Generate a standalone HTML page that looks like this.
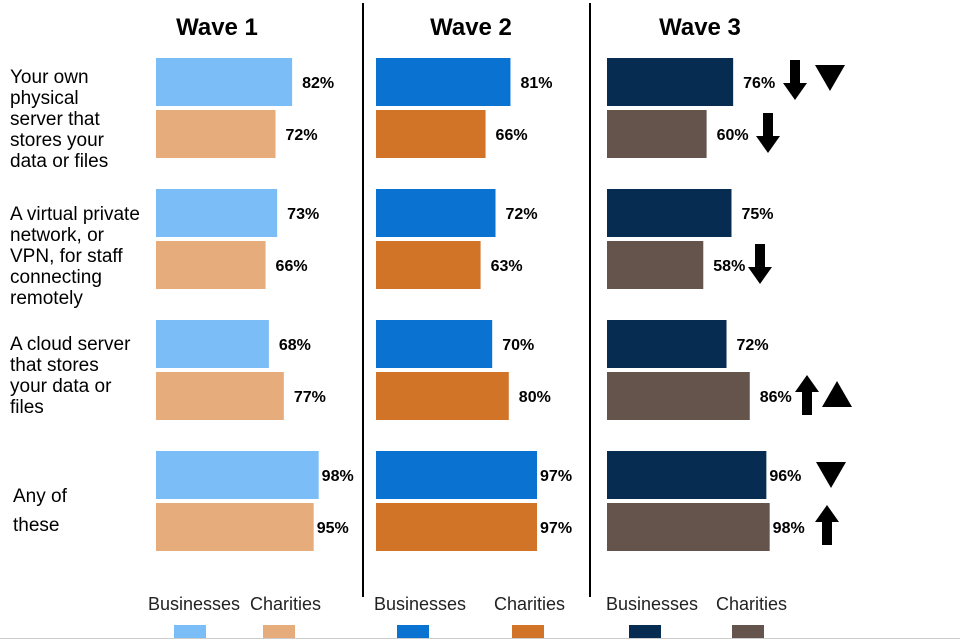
<!DOCTYPE html>
<html><head><meta charset="utf-8"><style>
body{margin:0;background:#fff;width:960px;height:640px;overflow:hidden;font-family:"Liberation Sans",Arial,sans-serif}
svg{display:block}
</style></head><body>
<svg id="c" width="960" height="640">
<line x1="0" y1="638.5" x2="960" y2="638.5" stroke="#ccc"/>
<line x1="363" y1="3" x2="363" y2="597" stroke="#000" stroke-width="2"/>
<line x1="590" y1="3" x2="590" y2="597" stroke="#000" stroke-width="2"/>
<g font-size="19" fill="#000">
<text x="10" y="83">Your own</text><text x="10" y="104">physical</text><text x="10" y="125">server that</text><text x="10" y="146">stores your</text><text x="10" y="167">data or files</text>
<text x="10" y="220">A virtual private</text><text x="10" y="241">network, or</text><text x="10" y="262">VPN, for staff</text><text x="10" y="283">connecting</text><text x="10" y="304">remotely</text>
<text x="10" y="350">A cloud server</text><text x="10" y="371">that stores</text><text x="10" y="392">your data or</text><text x="10" y="413">files</text>
<text x="13" y="502">Any of</text><text x="13" y="531">these</text>
</g>
<g font-size="18" fill="#222">
<text x="148" y="610">Businesses</text><text x="250" y="610">Charities</text>
<text x="374" y="610">Businesses</text><text x="494" y="610">Charities</text>
<text x="606" y="610">Businesses</text><text x="716" y="610">Charities</text>
</g>
</svg>
<script>
const waves=["Wave 1","Wave 2","Wave 3"];
const categories=["own-server","vpn","cloud-server","any"];
const businesses=[[82,73,68,98],[81,72,70,97],[76,75,72,96]];
const charities=[[72,66,77,95],[66,63,80,97],[60,58,86,98]];
const bizColors=["#7bbdf7","#0a72d1","#062c52"];
const chaColors=["#e6ac7c","#d17428","#64544b"];
const waveX=[156,376,607];
const titleX=[217,471,700];
const rowY=[58,189,320,451];
const scale=1.66,barH=48;
const ns="http://www.w3.org/2000/svg";
const svg=document.getElementById('c');
function el(t,a){const e=document.createElementNS(ns,t);for(const k in a)e.setAttribute(k,a[k]);svg.appendChild(e);return e;}
const xs=(w,v)=>waveX[w]+v*scale;
waves.forEach((w,wi)=>{
  const t=el('text',{x:titleX[wi],y:35,'font-size':24,'font-weight':'bold','text-anchor':'middle'});
  t.textContent=w;
  
  
  categories.forEach((c,ci)=>{
    [[businesses,bizColors,0,'businesses'],[charities,chaColors,52,'charities']].forEach(([arr,col,off,nm])=>{
      const v=arr[wi][ci],y=rowY[ci]+off;
      const r=el('rect',{x:waveX[wi],y:y,width:xs(wi,v)-waveX[wi],height:barH,fill:col[wi]});
      
      
      const l=el('text',{x:xs(wi,v)+(v>90?3:10),y:y+barH/2+6,'font-size':16,'font-weight':'bold'});
      l.textContent=v+'%';
      
      
    });
  });
});
const sw=[[174,bizColors[0]],[263,chaColors[0]],[397,bizColors[1]],[512,chaColors[1]],[629,bizColors[2]],[732,chaColors[2]]];
sw.forEach(([x,c])=>{const r=el('rect',{x:x,y:625,width:32,height:13,fill:c});

});
function arrow(x,y,up){
  const p=up?`M${x-5},${y+40} L${x-5},${y+17} L${x-12},${y+17} L${x},${y} L${x+12},${y+17} L${x+5},${y+17} L${x+5},${y+40}Z`
           :`M${x-5},${y} L${x-5},${y+23} L${x-12},${y+23} L${x},${y+40} L${x+12},${y+23} L${x+5},${y+23} L${x+5},${y}Z`;
  const a=el('path',{d:p,fill:'#000'});
  
  
}
function tri(x,y,up){
  const p=up?`M${x-15},${y+26} L${x+15},${y+26} L${x},${y}Z`:`M${x-15},${y} L${x+15},${y} L${x},${y+26}Z`;
  const a=el('path',{d:p,fill:'#000'});
  
  
}
arrow(795,60,false);tri(830,65,false);
arrow(768,113,false);
arrow(760,244,false);
arrow(807,375,true);tri(837,381,true);
tri(831,462,false);
arrow(827,505,true);
</script>
</body></html>
